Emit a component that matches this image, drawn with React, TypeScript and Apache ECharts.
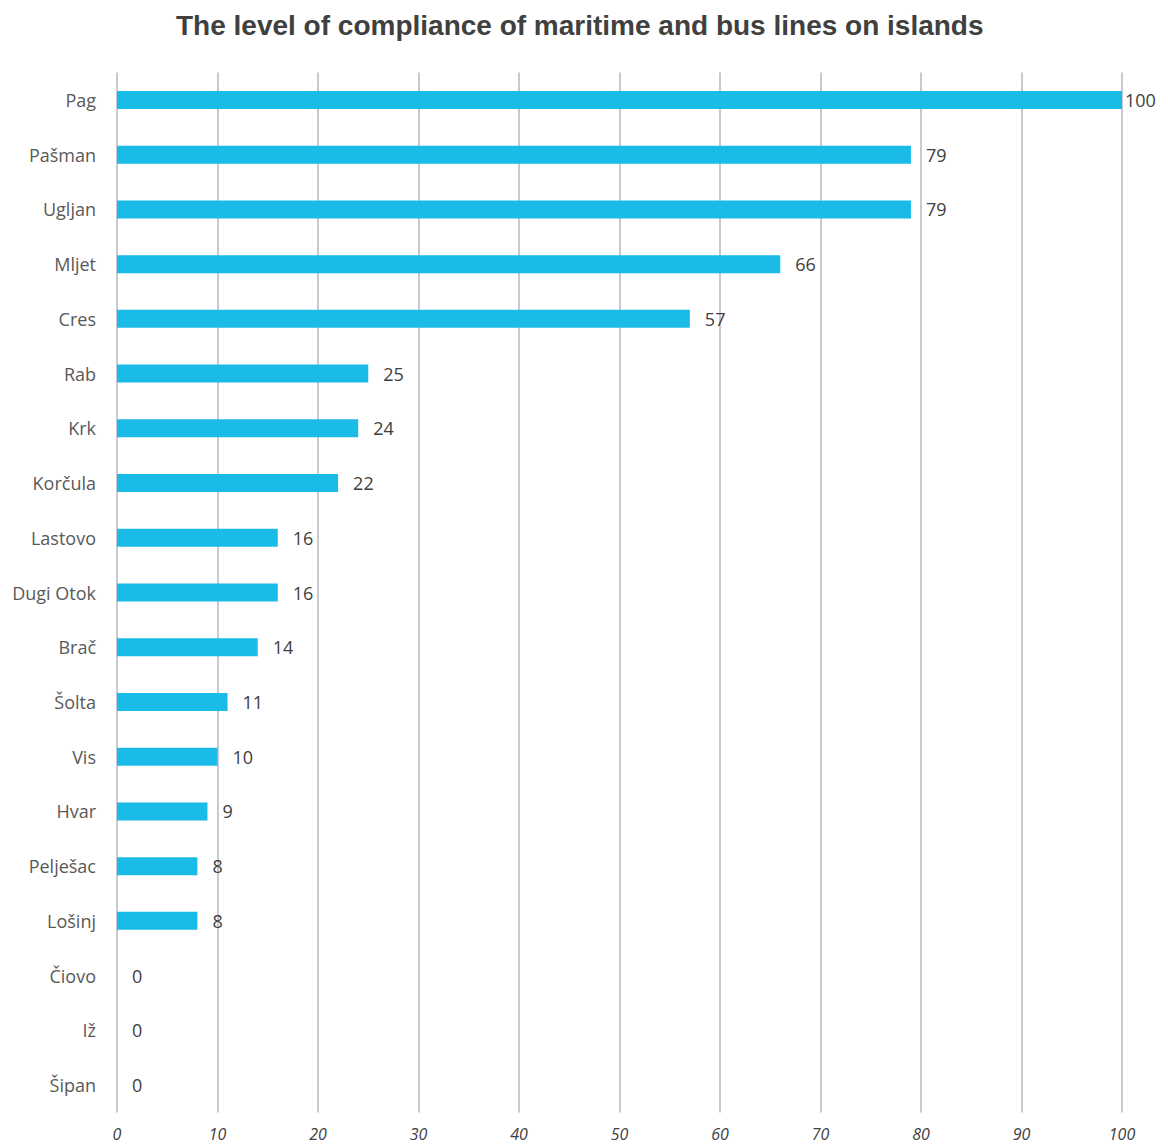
import React, { useEffect, useRef } from "react";
import * as echarts from "echarts";

const categories = ["Pag", "Pašman", "Ugljan", "Mljet", "Cres", "Rab", "Krk", "Korčula", "Lastovo", "Dugi Otok", "Brač", "Šolta", "Vis", "Hvar", "Pelješac", "Lošinj", "Čiovo", "Iž", "Šipan"];
const values = [100, 79, 79, 66, 57, 25, 24, 22, 16, 16, 14, 11, 10, 9, 8, 8, 0, 0, 0];
const xTicks = [0, 10, 20, 30, 40, 50, 60, 70, 80, 90, 100];
const title = "The level of compliance of maritime and bus lines on islands";

export default function App() {
  const ref = useRef<HTMLDivElement>(null);
  useEffect(() => {
    if (!ref.current) return;
    const chart = echarts.init(ref.current, null, { renderer: "svg" });
    chart.setOption({
      animation: false,
      backgroundColor: "#ffffff",
      title: {
        text: title,
        left: 171,
        top: 6,
        textStyle: { fontFamily: "Liberation Sans", fontWeight: "bold", fontSize: 28, color: "#404040" },
      },
      grid: { left: 117, right: 46, top: 72.6, bottom: 31.6, containLabel: false },
      xAxis: {
        type: "value",
        min: xTicks[0],
        max: xTicks[xTicks.length - 1],
        interval: 10,
        axisLine: { show: false },
        axisTick: { show: false },
        splitLine: { show: true, lineStyle: { color: "#c9c9d0", width: 2 } },
        axisLabel: { fontFamily: "Open Sans", fontStyle: "italic", fontSize: 16, color: "#404040", margin: 14 },
      },
      yAxis: {
        type: "category",
        data: categories,
        inverse: true,
        axisLine: { show: false },
        axisTick: { show: false },
        axisLabel: { fontFamily: "Open Sans", fontSize: 18, color: "#595959", margin: 21 },
      },
      series: [
        {
          type: "bar",
          data: values.map((v) => ({
            value: v,
            label: { distance: v === 100 ? 3 : 15 },
          })),
          barWidth: 18,
          itemStyle: { color: "#1bbbe8" },
          label: {
            show: true,
            position: "right",
            fontFamily: "Open Sans",
            fontSize: 18,
            color: "#404040",
          },
        },
      ],
    });
    return () => chart.dispose();
  }, []);
  return <div ref={ref} style={{ position: "absolute", left: 0, top: 0, width: 1168, height: 1144 }} />;
}
